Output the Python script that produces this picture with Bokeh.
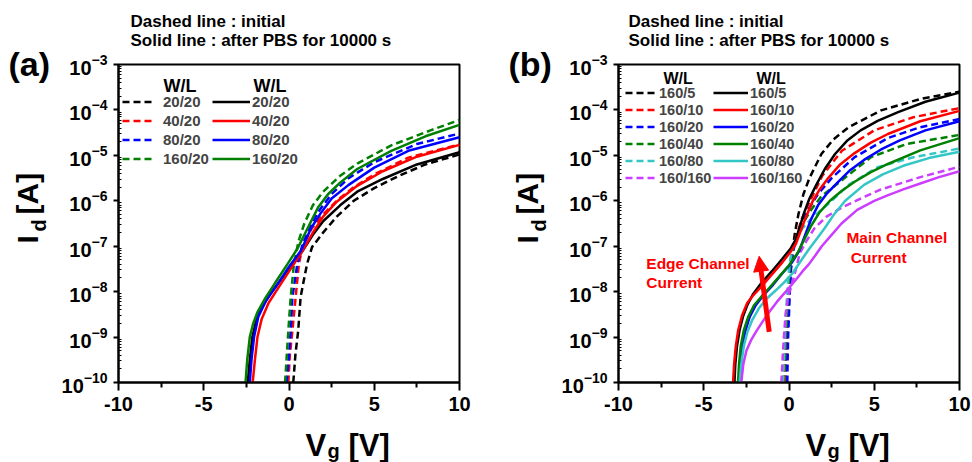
import math
from bokeh.plotting import figure
from bokeh.models import (Range1d, FixedTicker, LogTickFormatter, Legend, LegendItem,
                          Label, Arrow, NormalHead)
from bokeh.layouts import row, column
from bokeh.embed import file_html
from bokeh.resources import INLINE

FONT = "Liberation Sans"

# ---------------- axis ticks ----------------
x_ticks = [-10, -5, 0, 5, 10]
x_minor_ticks = [-7.5, -2.5, 2.5, 7.5]
y_exponents = [-10, -9, -8, -7, -6, -5, -4, -3]

# ---------------- panel (a): W/L = x/20 ----------------
a_labels = ["20/20", "40/20", "80/20", "160/20"]
a_colors = ["#000000", "#ff0000", "#0000ff", "#008000"]

# initial (dashed)  -- Vg [V], log10(Id [A])
a_init_2020_vg = [0.25, 0.38, 0.54, 0.68, 0.87, 1.06, 1.35, 2.0, 2.8, 3.8, 5.0, 6.5, 8.0, 10]
a_init_2020_log = [-10, -9.37, -8.86, -8.12, -7.75, -7.39, -7.02, -6.7, -6.35, -6.0, -5.72, -5.44, -5.2, -4.98]
a_init_4020_vg = [-0.04, 0.05, 0.2, 0.39, 0.58, 0.8, 1.35, 2.0, 2.8, 3.8, 5.0, 7.0, 10]
a_init_4020_log = [-10, -9.4, -8.86, -8.12, -7.39, -7.0, -6.6, -6.3, -6.0, -5.7, -5.42, -5.05, -4.76]
a_init_8020_vg = [-0.14, 0.0, 0.1, 0.2, 0.49, 0.8, 1.16, 1.7, 2.5, 3.5, 5.0, 7.5, 10]
a_init_8020_log = [-10, -9.4, -8.86, -8.12, -7.39, -6.95, -6.65, -6.25, -5.85, -5.5, -5.15, -4.75, -4.52]
a_init_16020_vg = [-0.23, -0.04, 0.1, 0.29, 0.55, 0.9, 1.4, 2.0, 3.0, 4.0, 6.0, 8.3, 10]
a_init_16020_log = [-10, -8.86, -8.12, -7.39, -6.9, -6.5, -6.1, -5.8, -5.45, -5.18, -4.78, -4.45, -4.22]

# after PBS for 10000 s (solid)
a_pbs_2020_vg = [-2.42, -2.3, -2.15, -1.9, -1.6, -1.1, -0.5, 0.2, 0.8, 1.4, 2.0, 3.0, 4.0, 5.5, 7.5, 10]
a_pbs_2020_log = [-10, -9.5, -9.0, -8.6, -8.35, -8.05, -7.75, -7.4, -7.1, -6.75, -6.45, -6.1, -5.8, -5.52, -5.2, -4.93]
a_pbs_4020_vg = [-2.13, -2.0, -1.85, -1.6, -1.2, -0.6, 0.1, 0.8, 1.4, 2.0, 2.8, 4.0, 5.5, 7.5, 10]
a_pbs_4020_log = [-10, -9.5, -9.0, -8.6, -8.25, -7.9, -7.5, -7.1, -6.7, -6.35, -6.02, -5.67, -5.35, -5.03, -4.77]
a_pbs_8020_vg = [-2.3, -2.2, -2.05, -1.8, -1.35, -0.7, 0.0, 0.7, 1.3, 1.9, 2.5, 3.5, 5.0, 7.0, 10]
a_pbs_8020_log = [-10, -9.5, -9.0, -8.55, -8.2, -7.85, -7.45, -7.1, -6.6, -6.25, -5.95, -5.65, -5.27, -4.9, -4.6]
a_pbs_16020_vg = [-2.55, -2.45, -2.3, -2.1, -1.85, -1.4, -0.8, -0.1, 0.5, 1.1, 1.7, 2.3, 3.0, 4.0, 6.0, 8.0, 10]
a_pbs_16020_log = [-10, -9.5, -9.0, -8.7, -8.45, -8.15, -7.8, -7.4, -7.05, -6.6, -6.15, -5.85, -5.6, -5.3, -4.9, -4.58, -4.33]

# ---------------- panel (b): W/L = 160/x ----------------
b_labels = ["160/5", "160/10", "160/20", "160/40", "160/80", "160/160"]
b_colors = ["#000000", "#ff0000", "#0000ff", "#008000", "#33c6c6", "#cc3dff"]

b_init_5_vg = [-0.22, -0.18, -0.12, -0.05, 0.02, 0.1, 0.2, 0.35, 0.55, 0.85, 1.2, 1.9, 2.6, 3.5, 5.4, 7.7, 10]
b_init_5_log = [-10, -9.5, -9.0, -8.5, -8.0, -7.5, -7.1, -6.7, -6.3, -5.85, -5.5, -4.97, -4.65, -4.38, -4.01, -3.76, -3.6]
b_init_10_vg = [-0.25, -0.2, -0.14, -0.07, 0.0, 0.08, 0.2, 0.45, 0.75, 1.1, 1.5, 1.95, 3.1, 5.0, 7.3, 10]
b_init_10_log = [-10, -9.5, -9.0, -8.5, -8.0, -7.5, -7.1, -6.75, -6.4, -6.1, -5.8, -5.45, -4.9, -4.45, -4.16, -3.96]
b_init_20_vg = [-0.1, -0.08, -0.05, 0.0, 0.05, 0.12, 0.25, 0.45, 0.8, 1.2, 1.7, 2.5, 3.85, 5.8, 7.7, 10]
b_init_20_log = [-10, -9.5, -9.0, -8.5, -8.0, -7.5, -7.1, -6.8, -6.45, -6.15, -5.85, -5.5, -5.04, -4.62, -4.38, -4.2]
b_init_40_vg = [-0.3, -0.25, -0.2, -0.12, -0.05, 0.05, 0.2, 0.45, 0.8, 1.3, 1.9, 3.1, 4.8, 6.9, 10]
b_init_40_log = [-10, -9.5, -9.0, -8.5, -8.0, -7.5, -7.1, -6.8, -6.5, -6.2, -5.9, -5.55, -5.04, -4.75, -4.55]
b_init_80_vg = [-0.35, -0.3, -0.25, -0.18, -0.1, 0.0, 0.15, 0.4, 0.8, 1.3, 1.9, 2.5, 3.5, 5.2, 7.3, 10]
b_init_80_log = [-10, -9.5, -9.0, -8.5, -8.0, -7.5, -7.1, -6.85, -6.6, -6.4, -6.2, -6.0, -5.65, -5.26, -5.04, -4.85]
b_init_160_vg = [-0.45, -0.38, -0.3, -0.2, -0.05, 0.15, 0.29, 0.63, 1.0, 1.5, 2.2, 3.1, 4.2, 5.4, 7.7, 10]
b_init_160_log = [-10, -9.5, -9.0, -8.5, -8.1, -7.85, -7.68, -7.16, -6.9, -6.6, -6.35, -6.15, -5.95, -5.75, -5.48, -5.25]

b_pbs_5_vg = [-3.2, -3.15, -3.05, -2.9, -2.7, -2.45, -2.1, -1.6, -1.0, -0.4, 0.1, 0.4, 0.65, 0.9, 1.2, 1.6, 2.1,
              2.7, 3.4, 4.2, 5.2, 6.4, 8.0, 10]
b_pbs_5_log = [-10, -9.6, -9.2, -8.85, -8.55, -8.3, -8.05, -7.8, -7.55, -7.28, -7.05, -6.85, -6.55, -6.25, -5.95,
               -5.65, -5.3, -4.97, -4.68, -4.45, -4.24, -4.05, -3.82, -3.62]
b_pbs_10_vg = [-3.28, -3.22, -3.12, -2.98, -2.75, -2.45, -2.1, -1.6, -1.0, -0.4, 0.1, 0.4, 0.7, 1.0, 1.4, 1.8,
               2.3, 3.0, 3.85, 4.8, 5.8, 7.7, 10]
b_pbs_10_log = [-10, -9.6, -9.2, -8.85, -8.52, -8.25, -8.08, -7.88, -7.62, -7.36, -7.12, -6.95, -6.65, -6.35,
                -6.0, -5.75, -5.5, -5.2, -4.95, -4.72, -4.53, -4.25, -4.02]
b_pbs_20_vg = [-2.88, -2.82, -2.72, -2.55, -2.3, -1.95, -1.5, -0.96, -0.4, 0.19, 0.6, 0.95, 1.3, 1.7, 2.2, 2.9,
               3.6, 4.4, 5.4, 6.5, 8.0, 10]
b_pbs_20_log = [-10, -9.6, -9.2, -8.85, -8.55, -8.3, -8.08, -7.86, -7.6, -7.35, -7.1, -6.75, -6.4, -6.1, -5.85,
                -5.58, -5.32, -5.1, -4.87, -4.67, -4.45, -4.25]
b_pbs_40_vg = [-2.99, -2.93, -2.83, -2.65, -2.4, -2.05, -1.6, -1.16, -0.6, 0.0, 0.5, 0.9, 1.3, 1.8, 2.4, 3.1,
               3.85, 4.8, 5.8, 7.7, 10]
b_pbs_40_log = [-10, -9.6, -9.2, -8.85, -8.56, -8.3, -8.1, -7.92, -7.68, -7.42, -7.15, -6.85, -6.55, -6.25, -6.0,
                -5.78, -5.58, -5.37, -5.19, -4.89, -4.62]
b_pbs_80_vg = [-2.9, -2.8, -2.65, -2.45, -2.15, -1.75, -1.3, -0.77, -0.3, 0.2, 0.77, 1.2, 1.6, 2.1, 2.6, 3.3,
               4.4, 5.5, 6.7, 8.2, 10]
b_pbs_80_log = [-10, -9.6, -9.2, -8.9, -8.62, -8.36, -8.15, -7.97, -7.8, -7.6, -7.28, -7.05, -6.85, -6.6, -6.32,
                -6.0, -5.65, -5.42, -5.23, -5.06, -4.92]
b_pbs_160_vg = [-2.8, -2.68, -2.5, -2.2, -1.93, -1.55, -1.16, -0.7, -0.19, 0.38, 0.8, 1.16, 1.55, 1.92, 2.5,
                3.08, 4.0, 5.0, 5.78, 6.7, 7.7, 8.8, 10]
b_pbs_160_log = [-10, -9.6, -9.3, -9.05, -8.88, -8.66, -8.45, -8.22, -8.0, -7.75, -7.55, -7.4, -7.2, -7.0, -6.75,
                 -6.5, -6.2, -6.0, -5.88, -5.75, -5.62, -5.48, -5.35]

# red arrow of panel (b) (edge channel current), Vg and Id
arrow_vg = [-1.16, -1.75]
arrow_id = [1.3e-9, 6.0e-8]
# red notes of panel (b): (Vg, Id) of their text baselines
edge_note_pos = [(-8.37, 3.32e-8), (-8.37, 1.30e-8)]
main_note_pos = [(3.37, 1.23e-7), (3.62, 4.61e-8)]

a_init = [(a_init_2020_vg, a_init_2020_log), (a_init_4020_vg, a_init_4020_log),
          (a_init_8020_vg, a_init_8020_log), (a_init_16020_vg, a_init_16020_log)]
a_pbs = [(a_pbs_2020_vg, a_pbs_2020_log), (a_pbs_4020_vg, a_pbs_4020_log),
         (a_pbs_8020_vg, a_pbs_8020_log), (a_pbs_16020_vg, a_pbs_16020_log)]
b_init = [(b_init_5_vg, b_init_5_log), (b_init_10_vg, b_init_10_log), (b_init_20_vg, b_init_20_log),
          (b_init_40_vg, b_init_40_log), (b_init_80_vg, b_init_80_log), (b_init_160_vg, b_init_160_log)]
b_pbs = [(b_pbs_5_vg, b_pbs_5_log), (b_pbs_10_vg, b_pbs_10_log), (b_pbs_20_vg, b_pbs_20_log),
         (b_pbs_40_vg, b_pbs_40_log), (b_pbs_80_vg, b_pbs_80_log), (b_pbs_160_vg, b_pbs_160_log)]

DASH = "7 4"
LW = 2.5
DESC = 0.28           # Label "alphabetic" y is placed at the text bottom; lift by ~descent
PX_PER_DECADE = 45.43

# ---------------- layout geometry (px) ----------------
TOTAL_H = 462
TITLE_H = 49          # strip holding the two title lines
MAIN_H = 376          # main plot canvas height
BOTTOM_H = 37         # strip holding the x-axis title


def main_fig(width, right):
    p = figure(width=width, height=MAIN_H, x_range=Range1d(-10, 10), y_range=Range1d(1e-10, 1e-3),
               y_axis_type="log", output_backend="svg", toolbar_location=None,
               min_border_left=57, min_border_right=right, min_border_top=15, min_border_bottom=43)
    p.xgrid.visible = False
    p.ygrid.visible = False
    p.outline_line_color = "black"
    p.outline_line_width = 2
    p.outline_line_alpha = 1
    p.background_fill_color = "white"
    p.border_fill_color = "white"

    xa = p.xaxis[0]
    xa.ticker = FixedTicker(ticks=x_ticks, minor_ticks=x_minor_ticks)
    xa.major_label_overrides = {t: str(t) for t in x_ticks}
    xa.axis_line_width = 2
    xa.major_tick_line_width = 2
    xa.minor_tick_line_width = 2
    xa.major_tick_out = 8
    xa.major_tick_in = 0
    xa.minor_tick_out = 5
    xa.minor_tick_in = 0
    xa.major_label_text_font = FONT
    xa.major_label_text_font_style = "bold"
    xa.major_label_text_font_size = "20px"
    xa.major_label_text_color = "black"
    xa.major_label_standoff = 6

    ya = p.yaxis[0]
    ya.ticker = FixedTicker(ticks=[10.0 ** e for e in y_exponents],
                            minor_ticks=[k * 10.0 ** e for e in y_exponents[:-1] for k in range(2, 10)])
    ya.formatter = LogTickFormatter()
    ya.axis_line_width = 2
    ya.major_tick_line_width = 2
    ya.minor_tick_line_width = 1
    ya.major_tick_out = 5
    ya.major_tick_in = 0
    ya.minor_tick_out = 0
    ya.minor_tick_in = 3
    ya.major_label_text_font = FONT
    ya.major_label_text_font_style = "bold"
    ya.major_label_text_font_size = "20px"
    ya.major_label_text_color = "black"
    ya.major_label_standoff = 6
    return p


def text_fig(width, height):
    f = figure(width=width, height=height, x_range=Range1d(0, width), y_range=Range1d(0, height),
               x_axis_type=None, y_axis_type=None, output_backend="svg", toolbar_location=None,
               min_border=0)
    f.outline_line_color = None
    f.background_fill_color = "white"
    f.border_fill_color = "white"
    return f


def txt(p, x, y, text, size, color="black", angle=0.0, units="screen"):
    lift = DESC * size
    if units == "data":
        y = y * 10.0 ** (lift / PX_PER_DECADE)
    elif angle:
        x = x - lift
    else:
        y = y + lift
    p.add_layout(Label(x=x, y=y, x_units=units, y_units=units, text=text, text_font=FONT,
                       text_font_style="bold", text_font_size=f"{size}px", text_color=color,
                       angle=angle, text_align="left", text_baseline="alphabetic"))


def add_curves(p, init, pbs, colors):
    r_init, r_pbs = [], []
    for (vg, lg), c in zip(init, colors):
        r_init.append(p.line(vg, [10.0 ** v for v in lg], line_color=c, line_width=LW, line_dash=DASH))
    for (vg, lg), c in zip(pbs, colors):
        r_pbs.append(p.line(vg, [10.0 ** v for v in lg], line_color=c, line_width=LW))
    return r_init, r_pbs


def add_legend(p, renderers, labels, loc, gw, standoff, size, h):
    leg = Legend(items=[LegendItem(label=l, renderers=[r]) for l, r in zip(labels, renderers)],
                 location=loc, orientation="vertical", padding=0, margin=0, spacing=0,
                 glyph_width=gw, glyph_height=h, label_height=h, label_standoff=standoff,
                 label_text_font=FONT, label_text_font_style="bold", label_text_font_size=f"{size}px",
                 border_line_color=None, background_fill_alpha=0)
    p.add_layout(leg)


def panel(tag, left_w, main_w, right, init, pbs, colors, labels, leg_a, leg_b, leg_gw, leg_so, leg_size,
          leg_h, wl_pos, wl_size, title_x):
    # left strip (full height): panel tag and y-axis title I_d [A]
    l = text_fig(left_w, TOTAL_H)
    off = left_w - 58
    txt(l, 8 + off, 389, tag, 34)
    txt(l, 35 + off, 219, "I", 30, angle=math.pi / 2)
    txt(l, 44 + off, 231, "d", 20, angle=math.pi / 2)
    txt(l, 35 + off, 248, "[A]", 30, angle=math.pi / 2)
    # title strip (its frame is aligned by the column with the plot frame)
    t = text_fig(main_w, TITLE_H)
    txt(t, title_x, 23.5, "Dashed line : initial", 17)
    txt(t, title_x, 4, "Solid line : after PBS for 10000 s", 17)
    # main plot
    p = main_fig(main_w, right)
    ri, rp = add_curves(p, init, pbs, colors)
    add_legend(p, ri, labels, leg_a, leg_gw[0], leg_so[0], leg_size, leg_h)
    add_legend(p, rp, labels, leg_b, leg_gw[1], leg_so[1], leg_size, leg_h)
    txt(p, wl_pos[0], wl_pos[2], "W/L", wl_size)
    txt(p, wl_pos[1], wl_pos[2], "W/L", wl_size)
    # bottom strip: x-axis title V_g [V]
    b = text_fig(main_w, BOTTOM_H)
    txt(b, 187, 8, "V", 31)
    txt(b, 209, 6, "g", 20)
    txt(b, 230, 8, "[V]", 31)
    return p, row(l, column(t, p, b))


pa, col_a = panel("(a)", 58, 428, 27, a_init, a_pbs, a_colors, a_labels,
                  (4, 214), (94, 214), (31, 38), (10, 2), 15, 19, (45, 135, 291), 18, 12)
pb, col_b = panel("(b)", 72, 414, 13, b_init, b_pbs, b_colors, b_labels,
                  (7, 196), (95, 196), (30, 35), (4, 2), 14.5, 17, (45, 138, 300), 16, 10)

pb.add_layout(Arrow(end=NormalHead(size=15, fill_color="#ff0000", line_color="#ff0000", line_width=1),
                    x_start=arrow_vg[0], y_start=arrow_id[0], x_end=arrow_vg[1], y_end=arrow_id[1],
                    line_color="#ff0000", line_width=5))
txt(pb, edge_note_pos[0][0], edge_note_pos[0][1], "Edge Channel", 15.5, color="#ff0000", units="data")
txt(pb, edge_note_pos[1][0], edge_note_pos[1][1], "Current", 15.5, color="#ff0000", units="data")
txt(pb, main_note_pos[0][0], main_note_pos[0][1], "Main Channel", 15.5, color="#ff0000", units="data")
txt(pb, main_note_pos[1][0], main_note_pos[1][1], "Current", 15.5, color="#ff0000", units="data")

layout = row(col_a, col_b)
open("out.html", "w").write(file_html(layout, INLINE))
